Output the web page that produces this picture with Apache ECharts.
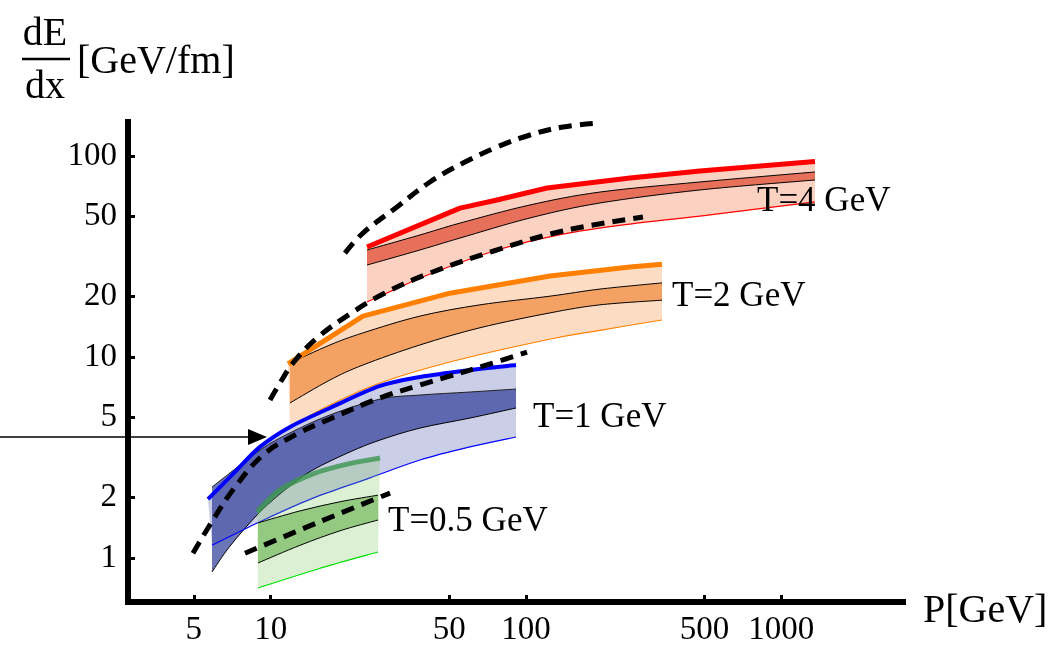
<!DOCTYPE html>
<html><head><meta charset="utf-8">
<script src="https://cdn.jsdelivr.net/npm/echarts@6/dist/echarts.min.js"></script>
<style>html,body{margin:0;padding:0;background:#fff}#c{width:1062px;height:646px}</style>
</head><body><div id="c"></div>
<script>
// ---- data: [P (GeV), dE/dx (GeV/fm)] ----
const xTicks = [5, 10, 50, 100, 500, 1000];
const yTicks = [1, 2, 5, 10, 20, 50, 100];
const xRange = [2.761, 2997];
const yRange = [0.6063, 147.6];

// T = 4 GeV
const t4Top = [[23.84,35.3],[55.15,55.1],[76.96,60.4],[120.9,69.3],[255.5,77.7],[480.3,84.2],[1355,93.9]];
const t4Up  = [[23.84,34.1],[38.44,40.5],[55.15,46.4],[103.7,57.1],[194.9,66.2],[480.3,74.3],[1355,83.3]];
const t4Lo  = [[23.84,28.7],[38.44,34.1],[55.15,39.1],[103.7,49.2],[194.9,58.4],[480.3,67.8],[1355,76.0]];
const t4Bot = [[23.84,18.8],[32.1,22.3],[42.07,25.9],[76.96,34.1],[139.6,40.9],[255.5,45.9],[480.3,50.3],[1355,59.1]];
// T = 2 GeV
const t2Top = [[11.69,9.25],[22.98,16.0],[50.4,20.8],[124.2,25.3],[255.5,28.1],[341,29.0]];
const t2Up  = [[11.9,9.35],[17.07,11.5],[22.98,13.2],[38.44,16.0],[66.04,18.2],[124.2,20.1],[194.9,21.8],[341,23.4]];
const t2Lo  = [[11.9,5.92],[17.07,7.70],[22.98,9.14],[38.44,11.5],[66.04,14.0],[124.2,16.6],[194.9,18.2],[341,19.2]];
const t2Bot = [[11.9,4.50],[17.07,5.78],[26.8,7.44],[50.4,9.46],[120.9,12.2],[194.9,13.6],[341,15.3]];
// T = 1 GeV
const t1Top = [[5.68,1.97],[7.25,2.69],[9.08,3.58],[11.9,4.50],[17.07,5.59],[26.8,7.19],[38.44,7.97],[60.35,8.63],[91.4,9.14]];
const t1Up  = [[5.89,2.26],[9.08,3.45],[11.9,4.20],[17.07,5.16],[26.8,6.19],[38.44,6.48],[60.35,6.71],[91.4,6.94]];
const t1Lo  = [[5.89,0.855],[6.93,1.15],[9.08,1.70],[11.9,2.29],[14.64,2.75],[20.45,3.38],[26.8,3.87],[38.44,4.44],[60.35,4.98],[91.4,5.59]];
const t1Bot = [[5.89,1.16],[9.08,1.52],[14.64,1.99],[24.49,2.51],[38.44,3.08],[60.35,3.58],[91.4,4.01]];
// T = 0.5 GeV
const t05Top = [[8.84,1.70],[10.87,2.19],[14.64,2.63],[19.9,2.94],[26.8,3.15]];
const t05Up  = [[8.92,1.50],[13.02,1.72],[18.68,1.91],[26.33,2.06]];
const t05Lo  = [[8.92,0.948],[13.02,1.16],[18.68,1.37],[26.33,1.55]];
const t05Bot = [[8.92,0.712],[15.32,0.885],[26.33,1.075]];
// dashed curves
const d1 = [[19.54,32.9],[22.98,41.4],[31.25,55.8],[42.07,74.3],[56.66,92.3],[76.96,110.8],[103.7,127.2],[139.6,139.4],[194.9,146]];
const d2 = [[9.94,6.12],[10.87,7.44],[12.23,9.35],[15.18,12.45],[20.45,16.4],[27.54,20.6],[42.07,26.2],[76.96,34.1],[139.6,42.4],[287.2,49.7]];
const d3 = [[4.96,1.06],[5.94,1.55],[7.12,2.19],[9.33,3.26],[12.68,4.15],[17.07,4.93],[26.8,6.27],[38.44,7.27],[49.05,7.97],[72.28,9.25],[100.9,10.6]];
const d4 = [[7.93,1.06],[15.18,1.50],[29.34,2.11]];
const arrowAt = [9.67, 4.01];
const bandLabels = ['T=4 GeV', 'T=2 GeV', 'T=1 GeV', 'T=0.5 GeV'];

// ---- chart ----
const L = v => Math.log10(v);
const toXY = arr => arr.map(p => [L(p[0]), L(p[1])]);
const SERIF = '"Liberation Serif", "Times New Roman", serif';

// path through pixel points: Catmull-Rom Beziers (k = 1) or straight segments (k = 0)
function crPath(pts, first, k) {
  let d = (first ? 'M' : 'L') + pts[0][0] + ',' + pts[0][1];
  for (let i = 0; i < pts.length - 1; i++) {
    const p0 = pts[i - 1] || pts[i], p1 = pts[i], p2 = pts[i + 1], p3 = pts[i + 2] || pts[i + 1];
    const c1x = p1[0] + k * (p2[0] - p0[0]) / 6, c1y = p1[1] + k * (p2[1] - p0[1]) / 6;
    const c2x = p2[0] - k * (p3[0] - p1[0]) / 6, c2y = p2[1] - k * (p3[1] - p1[1]) / 6;
    d += 'C' + c1x + ',' + c1y + ' ' + c2x + ',' + c2y + ' ' + p2[0] + ',' + p2[1];
  }
  return d;
}
function band(upper, lower, fill, z, kUp) {
  const ku = kUp == null ? 1 : kUp;
  return {
    type: 'custom', coordinateSystem: 'cartesian2d', z: z, silent: true,
    data: [[L(upper[0][0]), L(upper[0][1])]],
    renderItem: function (params, api) {
      const up = toXY(upper).map(p => api.coord(p));
      const lo = toXY(lower).reverse().map(p => api.coord(p));
      return { type: 'path', shape: { pathData: crPath(up, true, ku) + crPath(lo, false, 1) + 'Z' }, style: { fill: fill } };
    }
  };
}
function curve(data, color, width, z, k) {
  const kk = k == null ? 1 : k;
  return {
    type: 'custom', coordinateSystem: 'cartesian2d', z: z, silent: true,
    data: [[L(data[0][0]), L(data[0][1])]],
    renderItem: function (params, api) {
      const pts = toXY(data).map(p => api.coord(p));
      return { type: 'path', shape: { pathData: crPath(pts, true, kk) },
        style: { fill: 'none', stroke: color, lineWidth: width, lineJoin: 'round', lineCap: 'butt' } };
    }
  };
}
const dash = d => ({
  type: 'line', data: toXY(d), showSymbol: false, symbol: 'none', z: 30, silent: true, smooth: 0.4,
  lineStyle: { color: '#000', width: 5, type: [13, 8] }
});
const fmt = v => String(Math.round(Math.pow(10, v)));

const chart = echarts.init(document.getElementById('c'), null, { renderer: 'canvas' });
chart.setOption({
  animation: false,
  backgroundColor: '#fff',
  grid: { left: 128, right: 159, top: 122, bottom: 44, containLabel: false, outerBoundsMode: 'none' },
  xAxis: {
    type: 'value', min: L(xRange[0]), max: L(xRange[1]),
    axisLine: { show: true, onZero: false, lineStyle: { color: '#000', width: 6, cap: 'square' } },
    axisTick: { show: true, inside: true, length: 7, lineStyle: { color: '#000', width: 3 }, customValues: xTicks.map(L) },
    axisLabel: { show: true, customValues: xTicks.map(L), formatter: fmt, margin: 12,
      fontFamily: SERIF, fontSize: 33, color: '#000' },
    splitLine: { show: false }
  },
  yAxis: {
    type: 'value', min: L(yRange[0]), max: L(yRange[1]),
    axisLine: { show: true, onZero: false, lineStyle: { color: '#000', width: 6, cap: 'square' } },
    axisTick: { show: true, inside: true, length: 7, lineStyle: { color: '#000', width: 3 }, customValues: yTicks.map(L) },
    axisLabel: { show: true, customValues: yTicks.map(L), formatter: fmt, margin: 11,
      fontFamily: SERIF, fontSize: 33, color: '#000' },
    splitLine: { show: false }
  },
  series: [
    band(t4Top, t4Bot, '#fbd2c2', 2, 0),
    band(t4Up, t4Lo, '#e7705a', 3),
    curve(t4Up, '#000', 1, 4), curve(t4Lo, '#000', 1, 4),
    curve(t4Bot, '#ff0000', 1.2, 4), curve(t4Top, '#ff0000', 5, 4, 0),

    band(t2Top, t2Bot, '#fddcc4', 5, 0),
    band(t2Up, t2Lo, '#f3a264', 6),
    curve(t2Up, '#000', 1, 7), curve(t2Lo, '#000', 1, 7),
    curve(t2Bot, '#ff8000', 1.2, 7), curve(t2Top, '#ff8000', 5, 7, 0),

    band(t1Top, t1Bot, 'rgba(70,80,170,0.28)', 8),
    band(t1Up, t1Lo, 'rgba(50,65,155,0.72)', 9),
    curve(t1Up, '#222', 1, 10), curve(t1Lo, '#000', 1, 10),
    curve(t1Bot, '#0000ff', 1.2, 10), curve(t1Top, '#0000ff', 4, 10),

    band(t05Top, t05Bot, 'rgba(130,200,100,0.28)', 11),
    band(t05Up, t05Lo, 'rgba(90,170,60,0.55)', 12),
    curve(t05Up, '#000', 1, 13), curve(t05Lo, '#000', 1, 13),
    curve(t05Bot, '#00e000', 1.2, 13), curve(t05Top, 'rgba(60,150,80,0.8)', 5, 13),

    dash(d1), dash(d2), dash(d3), dash(d4)
  ]
});

const tip = chart.convertToPixel({ gridIndex: 0 }, [L(arrowAt[0]), L(arrowAt[1])]);
const tf = '35px ' + SERIF;
chart.setOption({
  graphic: [
    { type: 'line', shape: { x1: 0, y1: tip[1], x2: tip[0] - 16, y2: tip[1] }, style: { stroke: '#000', lineWidth: 1.5 }, z: 50 },
    { type: 'polygon', shape: { points: [[tip[0] - 19, tip[1] - 8], [tip[0], tip[1]], [tip[0] - 19, tip[1] + 8]] }, style: { fill: '#000' }, z: 50 },
    { type: 'text', x: 757, y: 202, style: { text: bandLabels[0], font: tf, fill: '#000', verticalAlign: 'middle' }, z: 50 },
    { type: 'text', x: 672, y: 297, style: { text: bandLabels[1], font: tf, fill: '#000', verticalAlign: 'middle' }, z: 50 },
    { type: 'text', x: 533, y: 418, style: { text: bandLabels[2], font: tf, fill: '#000', verticalAlign: 'middle' }, z: 50 },
    { type: 'text', x: 388, y: 522, style: { text: bandLabels[3], font: tf, fill: '#000', verticalAlign: 'middle' }, z: 50 },
    { type: 'text', x: 923, y: 611, style: { text: 'P[GeV]', font: '40px ' + SERIF, fill: '#000', verticalAlign: 'middle' }, z: 50 },
    { type: 'text', x: 45, y: 34, style: { text: 'dE', font: '40px ' + SERIF, fill: '#000', align: 'center', verticalAlign: 'middle' }, z: 50 },
    { type: 'line', shape: { x1: 22, y1: 59, x2: 70, y2: 59 }, style: { stroke: '#000', lineWidth: 2.5 }, z: 50 },
    { type: 'text', x: 45, y: 87, style: { text: 'dx', font: '40px ' + SERIF, fill: '#000', align: 'center', verticalAlign: 'middle' }, z: 50 },
    { type: 'text', x: 77, y: 62, style: { text: '[GeV/fm]', font: '40px ' + SERIF, fill: '#000', verticalAlign: 'middle' }, z: 50 }
  ]
});
</script>
</body></html>
